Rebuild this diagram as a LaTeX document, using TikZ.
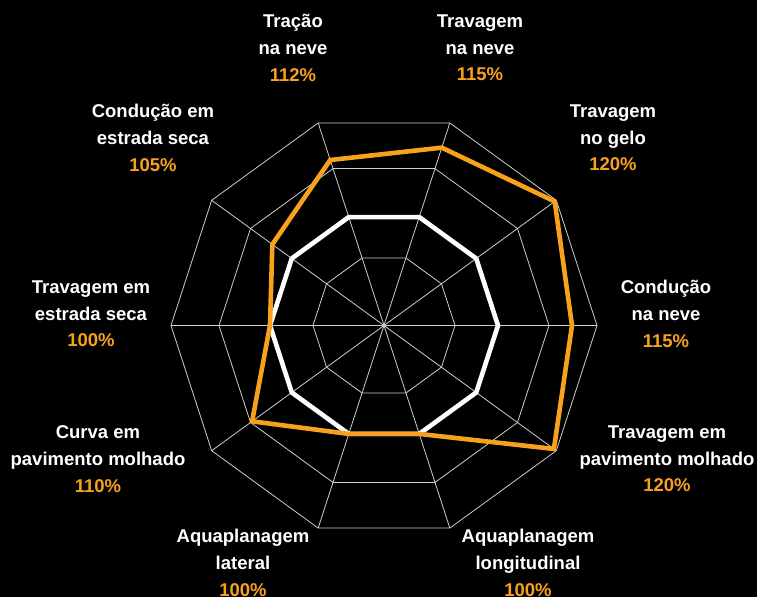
\documentclass[tikz,border=0pt]{standalone}
\usepackage{fontspec}
\setmainfont{Liberation Sans}
\definecolor{tyreorange}{RGB}{247,161,28}
\definecolor{webgray}{RGB}{205,205,205}
\begin{document}
\begin{tikzpicture}[x=1pt,y=1pt,
    webline/.style={draw=webgray,line width=0.8pt},
    basepoly/.style={draw=white,line width=4.6pt},
    scorepoly/.style={draw=tyreorange,line width=4.6pt},
    axislabel/.style={align=center,text=white,font=\bfseries\fontsize{18.5}{26.7}\selectfont}]
        \fill[black] (-384,-271.5) rectangle (373,325.5);
        \useasboundingbox (-384,-271.5) rectangle (373,325.5);
        \coordinate (o) at (0,0);
        % spokes and rings
        \draw[webline] (o) -- (0:213) (o) -- (36:213) (o) -- (72:213) (o) -- (108:213) (o) -- (144:213)
            (o) -- (180:213) (o) -- (216:213) (o) -- (252:213) (o) -- (288:213) (o) -- (324:213);
        \draw[webline] (0:71) -- (36:71) -- (72:71) -- (108:71) -- (144:71) -- (180:71) -- (216:71) -- (252:71) -- (288:71) -- (324:71) -- cycle;
        \draw[webline] (0:165) -- (36:165) -- (72:165) -- (108:165) -- (144:165) -- (180:165) -- (216:165) -- (252:165) -- (288:165) -- (324:165) -- cycle;
        \draw[webline] (0:213) -- (36:213) -- (72:213) -- (108:213) -- (144:213) -- (180:213) -- (216:213) -- (252:213) -- (288:213) -- (324:213) -- cycle;
        \fill[webgray] (o) circle(1.5pt);
        % 100% reference and scores
        \draw[basepoly] (0:114) -- (36:114) -- (72:114) -- (108:114) -- (144:114) -- (180:114) -- (216:114) -- (252:114) -- (288:114) -- (324:114) -- cycle;
        \draw[scorepoly] (0:188) -- (36:211) -- (72:187) -- (108:174) -- (144:138) -- (180:114) -- (216:163) -- (252:114) -- (288:114) -- (324:210) -- cycle;
        % axis labels
        \node[axislabel] (tracao) at (-91,277.5) {Tração\\na neve\\{\color{tyreorange}112\%}};
        \node[axislabel] (travneve) at (96,277.5) {Travagem\\na neve\\{\color{tyreorange}115\%}};
        \node[axislabel] (condseca) at (-231,187.5) {Condução em\\estrada seca\\{\color{tyreorange}105\%}};
        \node[axislabel] (travgelo) at (229,187.5) {Travagem\\no gelo\\{\color{tyreorange}120\%}};
        \node[axislabel] (travseca) at (-293,11.5) {Travagem em\\estrada seca\\{\color{tyreorange}100\%}};
        \node[axislabel] (condneve) at (282,11.5) {Condução\\na neve\\{\color{tyreorange}115\%}};
        \node[axislabel] (curva) at (-286,-133.5) {Curva em\\pavimento molhado\\{\color{tyreorange}110\%}};
        \node[axislabel] (travmolhado) at (283,-133.5) {Travagem em\\pavimento molhado\\{\color{tyreorange}120\%}};
        \node[axislabel] (aqualat) at (-141,-237.5) {Aquaplanagem\\lateral\\{\color{tyreorange}100\%}};
        \node[axislabel] (aqualong) at (144,-237.5) {Aquaplanagem\\longitudinal\\{\color{tyreorange}100\%}};
\end{tikzpicture}
\end{document}
